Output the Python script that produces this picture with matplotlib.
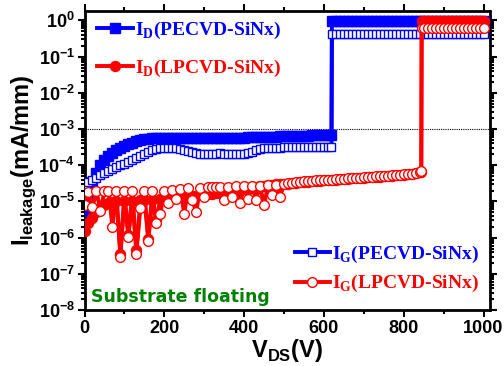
import numpy as np
import matplotlib
matplotlib.use('Agg')
import matplotlib.pyplot as plt
from matplotlib.lines import Line2D

plt.rcParams['mathtext.fontset'] = 'custom'
plt.rcParams['mathtext.rm'] = 'Liberation Serif:bold'
plt.rcParams['mathtext.sf'] = 'Liberation Sans:bold'
plt.rcParams['mathtext.bf'] = 'Liberation Sans:bold'

# ---------------- data ----------------
# PECVD-SiNx : voltages (V)
v_pe = list(range(0, 620, 10)) + [619] + [620] + list(range(630, 1001, 10))
# I_D (PECVD) mA/mm
id_pe = [5e-6, 1.5e-5, 3.5e-5, 6e-5, 1.0e-4, 1.4e-4, 1.8e-4, 2.2e-4, 2.6e-4, 3.0e-4,
         3.4e-4, 3.8e-4, 4.2e-4, 4.6e-4, 5.0e-4, 5.2e-4, 5.4e-4, 5.5e-4, 5.6e-4, 5.7e-4,
         5.7e-4, 5.7e-4, 5.8e-4, 5.8e-4, 5.7e-4, 5.7e-4, 5.6e-4, 5.6e-4, 5.5e-4, 5.5e-4,
         5.5e-4, 5.5e-4, 5.5e-4, 5.6e-4, 5.6e-4, 5.6e-4, 5.7e-4, 5.7e-4, 5.7e-4, 5.8e-4,
         5.8e-4, 5.9e-4, 5.9e-4, 6.0e-4, 6.0e-4, 6.1e-4, 6.1e-4, 6.2e-4, 6.2e-4, 6.3e-4,
         6.3e-4, 6.4e-4, 6.4e-4, 6.5e-4, 6.5e-4, 6.6e-4, 6.6e-4, 6.7e-4, 6.7e-4, 6.8e-4,
         6.8e-4, 6.9e-4, 7.0e-4,
         0.95, 0.95, 0.95, 0.95, 0.95, 0.95, 0.95, 0.95, 0.95, 0.95,
         0.95, 0.95, 0.95, 0.95, 0.95, 0.95, 0.95, 0.95, 0.95, 0.95,
         0.95, 0.95, 0.95, 0.95, 0.95, 0.95, 0.95, 0.95, 0.95, 0.95,
         0.95, 0.95, 0.95, 0.95, 0.95, 0.95, 0.95, 0.95, 0.95]
# I_G (PECVD) mA/mm
ig_pe = [2.5e-5, 3.5e-5, 4.0e-5, 4.5e-5, 5.2e-5, 6.0e-5, 7.0e-5, 8.0e-5, 9.0e-5, 1.0e-4,
         1.1e-4, 1.25e-4, 1.4e-4, 1.6e-4, 1.8e-4, 2.0e-4, 2.3e-4, 2.6e-4, 2.8e-4, 3.0e-4,
         3.0e-4, 3.0e-4, 2.9e-4, 2.9e-4, 2.8e-4, 2.7e-4, 2.5e-4, 2.3e-4, 2.2e-4, 2.1e-4,
         2.0e-4, 2.0e-4, 2.0e-4, 2.1e-4, 2.2e-4, 2.1e-4, 2.0e-4, 2.0e-4, 2.0e-4, 2.1e-4,
         2.1e-4, 2.2e-4, 2.3e-4, 2.6e-4, 2.8e-4, 2.9e-4, 2.9e-4, 2.9e-4, 2.9e-4, 3.0e-4,
         3.1e-4, 3.1e-4, 3.1e-4, 3.1e-4, 3.1e-4, 3.1e-4, 3.1e-4, 3.1e-4, 3.1e-4, 3.1e-4,
         3.1e-4, 3.1e-4, 3.2e-4,
         0.42, 0.42, 0.42, 0.42, 0.42, 0.42, 0.42, 0.42, 0.42, 0.42,
         0.42, 0.42, 0.42, 0.42, 0.42, 0.42, 0.42, 0.42, 0.42, 0.42,
         0.42, 0.42, 0.42, 0.42, 0.42, 0.42, 0.42, 0.42, 0.42, 0.42,
         0.42, 0.42, 0.42, 0.42, 0.42, 0.42, 0.42, 0.42, 0.42]

# LPCVD-SiNx : voltages (V)
v_lp = list(range(0, 850, 10)) + [844] + [845] + list(range(850, 1001, 10))
# I_D (LPCVD) mA/mm
id_lp = [1.5e-6, 2.5e-6, 3.5e-6, 5e-6, 6.5e-6, 8e-6, 9e-6, 9.5e-6, 1.0e-5, 3.5e-7,
         1.0e-5, 1.2e-6, 1.05e-5, 4.5e-7, 1.1e-5, 1.1e-5, 9e-7, 1.1e-5, 3e-6, 1.15e-5,
         1.2e-5, 1.2e-5, 1.25e-5, 1.25e-5, 1.3e-5, 1.3e-5, 1.35e-5, 1.4e-5, 1.45e-5, 1.5e-5,
         1.55e-5, 1.6e-5, 1.65e-5, 1.7e-5, 1.75e-5, 1.8e-5, 1.85e-5, 1.9e-5, 2.0e-5, 2.1e-5,
         2.2e-5, 2.3e-5, 2.4e-5, 2.5e-5, 2.6e-5, 2.7e-5, 2.8e-5, 2.9e-5, 3.0e-5, 3.0e-5,
         3.0e-5, 3.1e-5, 3.2e-5, 3.3e-5, 3.4e-5, 3.5e-5, 3.5e-5, 3.6e-5, 3.7e-5, 3.7e-5,
         3.8e-5, 3.9e-5, 3.9e-5, 4.0e-5, 4.1e-5, 4.1e-5, 4.2e-5, 4.3e-5, 4.3e-5, 4.4e-5,
         4.5e-5, 4.6e-5, 4.7e-5, 4.8e-5, 4.8e-5, 4.9e-5, 5.0e-5, 5.1e-5, 5.2e-5, 5.3e-5,
         5.5e-5, 5.6e-5, 5.8e-5, 6.1e-5, 6.4e-5, 6.7e-5,
         0.95, 0.95, 0.95, 0.95, 0.95, 0.95, 0.95, 0.95, 0.95, 0.95,
         0.95, 0.95, 0.95, 0.95, 0.95, 0.95, 0.95]
# I_G (LPCVD) mA/mm
ig_lp = [8e-6, 1.8e-5, 7e-6, 1.9e-5, 5.5e-6, 1.9e-5, 1.9e-5, 2.0e-6, 1.9e-5, 3.0e-7,
         1.9e-5, 1.05e-6, 2.0e-5, 3.6e-7, 6.5e-6, 2.0e-5, 8.3e-7, 2.0e-5, 2.6e-6, 4.5e-6,
         2.0e-5, 9e-6, 2.1e-5, 1.2e-5, 2.2e-5, 4.6e-6, 2.3e-5, 1.1e-5, 5e-6, 2.4e-5,
         1.3e-5, 2.5e-5, 2.5e-5, 2.5e-5, 2.5e-5, 1.1e-5, 2.5e-5, 1.3e-5, 2.6e-5, 9e-6,
         2.6e-5, 1.2e-5, 2.7e-5, 1.1e-5, 2.7e-5, 8e-6, 2.8e-5, 1.5e-5, 2.9e-5, 1.3e-5,
         3.1e-5, 3.2e-5, 3.3e-5, 3.4e-5, 3.5e-5, 3.6e-5, 3.6e-5, 3.7e-5, 3.8e-5, 3.8e-5,
         3.9e-5, 4.0e-5, 4.0e-5, 4.1e-5, 4.2e-5, 4.2e-5, 4.3e-5, 4.4e-5, 4.4e-5, 4.5e-5,
         4.6e-5, 4.7e-5, 4.8e-5, 4.9e-5, 4.9e-5, 5.0e-5, 5.1e-5, 5.2e-5, 5.3e-5, 5.4e-5,
         5.6e-5, 5.7e-5, 5.9e-5, 6.2e-5, 6.5e-5, 7.0e-5,
         0.62, 0.62, 0.62, 0.62, 0.62, 0.62, 0.62, 0.62, 0.62, 0.62,
         0.62, 0.62, 0.62, 0.62, 0.62, 0.62, 0.62]

labels_legend = [r'I$_\mathrm{D}$(PECVD-SiNx)', r'I$_\mathrm{D}$(LPCVD-SiNx)',
                 r'I$_\mathrm{G}$(PECVD-SiNx)', r'I$_\mathrm{G}$(LPCVD-SiNx)']
xticks = [0, 200, 400, 600, 800, 1000]
xticklabels = ['0', '200', '400', '600', '800', '1000']
yticks = [1e-8, 1e-7, 1e-6, 1e-5, 1e-4, 1e-3, 1e-2, 1e-1, 1e0]
yticklabels = [r'10$^\mathsf{-8}$', r'10$^\mathsf{-7}$', r'10$^\mathsf{-6}$', r'10$^\mathsf{-5}$',
               r'10$^\mathsf{-4}$', r'10$^\mathsf{-3}$', r'10$^\mathsf{-2}$', r'10$^\mathsf{-1}$',
               r'10$^\mathsf{0}$']
ref_level = 1e-3
note = 'Substrate floating'

# ---------------- figure ----------------
BLUE = '#0000ff'
RED = '#ff0000'
GREEN = '#008000'

fig = plt.figure(figsize=(5.04, 3.66), dpi=100)
ax = fig.add_axes([84.5/504, 1 - 310/366, 405/504, 299.5/366])

lw = 2.8
ax.plot(v_pe, id_pe, color=BLUE, lw=lw, marker='s', ms=7.2, mfc=BLUE, mec=BLUE, zorder=3)
ax.plot(v_pe, ig_pe, color=BLUE, lw=lw, marker='s', ms=6.4, mfc='white', mec=BLUE, mew=1.0, zorder=4)
ax.plot(v_lp, id_lp, color=RED, lw=lw, marker='o', ms=7.2, mfc=RED, mec=RED, zorder=5)
ax.plot(v_lp, ig_lp, color=RED, lw=lw, marker='o', ms=7.0, mfc='white', mec=RED, mew=1.0, zorder=6)

ax.axhline(ref_level, color='black', lw=0.8, ls=(0, (1, 1)), zorder=2)

ax.set_yscale('log')
ax.set_xlim(0, 1015)
ax.set_ylim(1e-8, 1.88)

ax.set_xticks(xticks)
ax.set_xticklabels(xticklabels)
ax.set_xticks(list(range(100, 1001, 200)), minor=True)
ax.set_yticks(yticks)
ax.set_yticklabels(yticklabels)

for lab in ax.get_xticklabels() + ax.get_yticklabels():
    lab.set_fontfamily('Liberation Sans')
    lab.set_fontweight('bold')
    lab.set_fontsize(13)

ax.tick_params(which='both', direction='out', top=True, right=True, width=1.5)
ax.tick_params(which='major', length=5, pad=2)
ax.tick_params(which='minor', length=3)
for s in ax.spines.values():
    s.set_linewidth(2.0)

ax.set_xlabel(r'V$_\mathsf{DS}$(V)', fontfamily='Liberation Sans', fontweight='bold', fontsize=17)
ax.set_ylabel(r'I$_\mathsf{leakage}$(mA/mm)', fontfamily='Liberation Sans', fontweight='bold', fontsize=17)
ax.xaxis.set_label_coords(0.5, -0.09)
ax.yaxis.set_label_coords(-0.115, 0.5)

ax.text(0.016, 0.043, note, transform=ax.transAxes, color=GREEN, fontfamily='DejaVu Sans',
        fontweight='bold', fontsize=12.5, va='center', ha='left')

h1 = Line2D([], [], color=BLUE, lw=lw, marker='s', ms=7.2, mfc=BLUE, mec=BLUE)
h2 = Line2D([], [], color=RED, lw=lw, marker='o', ms=7.2, mfc=RED, mec=RED)
h3 = Line2D([], [], color=BLUE, lw=lw, marker='s', ms=6.4, mfc='white', mec=BLUE, mew=1.0)
h4 = Line2D([], [], color=RED, lw=lw, marker='o', ms=7.0, mfc='white', mec=RED, mew=1.0)

prop = {'family': 'Liberation Serif', 'weight': 'bold', 'size': 14}
leg1 = ax.legend([h1, h2], labels_legend[:2], loc='upper left', bbox_to_anchor=(0.03, 0.97),
                 frameon=False, prop=prop, handlelength=1.85, handletextpad=0.1,
                 labelspacing=0.9, borderpad=0, borderaxespad=0)
for t, c in zip(leg1.get_texts(), [BLUE, RED]):
    t.set_color(c)
ax.add_artist(leg1)
leg2 = ax.legend([h3, h4], labels_legend[2:], loc='lower right', bbox_to_anchor=(0.975, 0.052),
                 frameon=False, prop=prop, handlelength=1.85, handletextpad=0.1,
                 labelspacing=0.45, borderpad=0, borderaxespad=0)
for t, c in zip(leg2.get_texts(), [BLUE, RED]):
    t.set_color(c)

fig.savefig('out.png', dpi=100)
